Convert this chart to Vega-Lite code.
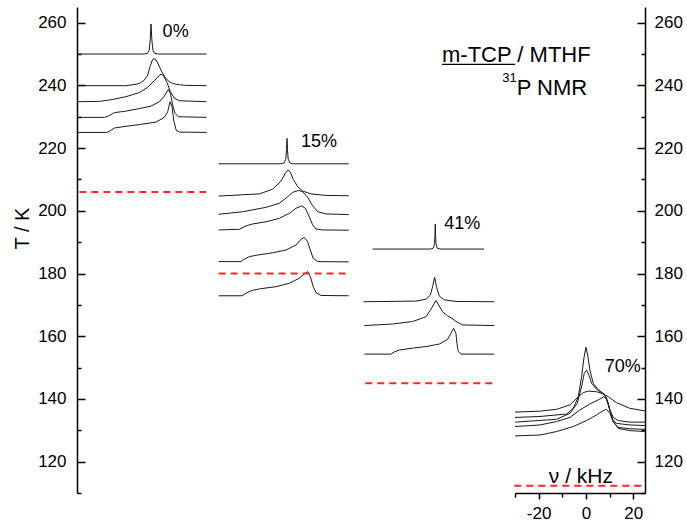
{
  "$schema": "https://vega.github.io/schema/vega-lite/v6.json",
  "padding": {"left": 12, "top": 7, "right": 0, "bottom": 0},
  "spacing": 0,
  "bounds": "flush",
  "config": {"view": {"stroke": null}, "font": "Liberation Sans"},
  "datasets": {
    "spectra": [
      {"p":1,"s":"1a","f":-31.3,"t":250},{"p":1,"s":"1a","f":-3,"t":250},{"p":1,"s":"1a","f":-1.5,"t":250.2},{"p":1,"s":"1a","f":-0.8,"t":251.2},{"p":1,"s":"1a","f":-0.35,"t":254.5},{"p":1,"s":"1a","f":0,"t":259.6},{"p":1,"s":"1a","f":0.35,"t":254.5},{"p":1,"s":"1a","f":0.8,"t":251.2},{"p":1,"s":"1a","f":1.5,"t":250.2},{"p":1,"s":"1a","f":3,"t":250},{"p":1,"s":"1a","f":23.5,"t":250},
      {"p":1,"s":"1b","f":-31.3,"t":239.9},{"p":1,"s":"1b","f":-10.6,"t":239.9},{"p":1,"s":"1b","f":-7.75,"t":240.2},{"p":1,"s":"1b","f":-4.93,"t":240.6},{"p":1,"s":"1b","f":-2.82,"t":241.7},{"p":1,"s":"1b","f":-1.41,"t":243.3},{"p":1,"s":"1b","f":-0.42,"t":246.0},{"p":1,"s":"1b","f":0.42,"t":247.8},{"p":1,"s":"1b","f":1.13,"t":248.6},{"p":1,"s":"1b","f":2.11,"t":248.1},{"p":1,"s":"1b","f":3.24,"t":246.5},{"p":1,"s":"1b","f":4.51,"t":244.4},{"p":1,"s":"1b","f":5.92,"t":242.6},{"p":1,"s":"1b","f":7.33,"t":241.4},{"p":1,"s":"1b","f":9.16,"t":240.6},{"p":1,"s":"1b","f":11.98,"t":240.2},{"p":1,"s":"1b","f":14.8,"t":240.0},{"p":1,"s":"1b","f":23.5,"t":239.9},
      {"p":1,"s":"1c","f":-31.3,"t":234.8},{"p":1,"s":"1c","f":-21.8,"t":234.9},{"p":1,"s":"1c","f":-16.2,"t":235.5},{"p":1,"s":"1c","f":-10.6,"t":236.4},{"p":1,"s":"1c","f":-4.93,"t":237.7},{"p":1,"s":"1c","f":-1.41,"t":239.4},{"p":1,"s":"1c","f":1.41,"t":241.5},{"p":1,"s":"1c","f":3.24,"t":243.0},{"p":1,"s":"1c","f":4.23,"t":243.6},{"p":1,"s":"1c","f":5.36,"t":243.0},{"p":1,"s":"1c","f":6.77,"t":240.9},{"p":1,"s":"1c","f":8.17,"t":238.0},{"p":1,"s":"1c","f":9.87,"t":235.9},{"p":1,"s":"1c","f":11.98,"t":235.1},{"p":1,"s":"1c","f":23.5,"t":234.8},
      {"p":1,"s":"1d","f":-31.3,"t":229.8},{"p":1,"s":"1d","f":-19.7,"t":229.8},{"p":1,"s":"1d","f":-17.9,"t":230.3},{"p":1,"s":"1d","f":-15.5,"t":231.3},{"p":1,"s":"1d","f":-10.6,"t":231.8},{"p":1,"s":"1d","f":-4.93,"t":232.6},{"p":1,"s":"1d","f":0,"t":233.4},{"p":1,"s":"1d","f":3.52,"t":234.8},{"p":1,"s":"1d","f":5.64,"t":236.6},{"p":1,"s":"1d","f":7.33,"t":238.7},{"p":1,"s":"1d","f":8.17,"t":237.5},{"p":1,"s":"1d","f":9.16,"t":233.7},{"p":1,"s":"1d","f":10.15,"t":231.1},{"p":1,"s":"1d","f":11.56,"t":230.0},{"p":1,"s":"1d","f":23.5,"t":229.8},
      {"p":1,"s":"1e","f":-31.3,"t":225.0},{"p":1,"s":"1e","f":-18.7,"t":225.0},{"p":1,"s":"1e","f":-17.3,"t":225.5},{"p":1,"s":"1e","f":-15.5,"t":226.4},{"p":1,"s":"1e","f":-12.0,"t":226.8},{"p":1,"s":"1e","f":-4.93,"t":227.5},{"p":1,"s":"1e","f":2.11,"t":228.3},{"p":1,"s":"1e","f":5.64,"t":229.8},{"p":1,"s":"1e","f":7.05,"t":231.6},{"p":1,"s":"1e","f":8.03,"t":234.8},{"p":1,"s":"1e","f":8.88,"t":233.2},{"p":1,"s":"1e","f":9.58,"t":228.9},{"p":1,"s":"1e","f":10.57,"t":225.8},{"p":1,"s":"1e","f":11.98,"t":225.1},{"p":1,"s":"1e","f":23.5,"t":225.0},
      {"p":2,"s":"2a","f":-28.9,"t":215},{"p":2,"s":"2a","f":-2.5,"t":215},{"p":2,"s":"2a","f":-1.2,"t":215.3},{"p":2,"s":"2a","f":-0.5,"t":216.5},{"p":2,"s":"2a","f":-0.2,"t":219.5},{"p":2,"s":"2a","f":0,"t":223.1},{"p":2,"s":"2a","f":0.2,"t":219.5},{"p":2,"s":"2a","f":0.5,"t":216.5},{"p":2,"s":"2a","f":1.2,"t":215.3},{"p":2,"s":"2a","f":2.5,"t":215},{"p":2,"s":"2a","f":26.1,"t":215},
      {"p":2,"s":"2b","f":-28.9,"t":204.7},{"p":2,"s":"2b","f":-11.7,"t":205.4},{"p":2,"s":"2b","f":-6.06,"t":206.9},{"p":2,"s":"2b","f":-2.54,"t":209.5},{"p":2,"s":"2b","f":-0.7,"t":212.0},{"p":2,"s":"2b","f":0.42,"t":213.0},{"p":2,"s":"2b","f":1.27,"t":212.5},{"p":2,"s":"2b","f":2.68,"t":210.0},{"p":2,"s":"2b","f":4.51,"t":207.7},{"p":2,"s":"2b","f":6.62,"t":206.3},{"p":2,"s":"2b","f":10.1,"t":205.4},{"p":2,"s":"2b","f":16.5,"t":204.9},{"p":2,"s":"2b","f":26.1,"t":204.8},
      {"p":2,"s":"2c","f":-28.9,"t":198.9},{"p":2,"s":"2c","f":-18.7,"t":199.7},{"p":2,"s":"2c","f":-8.88,"t":201.1},{"p":2,"s":"2c","f":-3.24,"t":202.4},{"p":2,"s":"2c","f":-0.14,"t":204.2},{"p":2,"s":"2c","f":2.4,"t":205.9},{"p":2,"s":"2c","f":4.93,"t":206.5},{"p":2,"s":"2c","f":6.62,"t":206.1},{"p":2,"s":"2c","f":8.74,"t":204.3},{"p":2,"s":"2c","f":10.85,"t":201.6},{"p":2,"s":"2c","f":12.97,"t":199.7},{"p":2,"s":"2c","f":16.5,"t":199.0},{"p":2,"s":"2c","f":26.1,"t":198.8},
      {"p":2,"s":"2d","f":-28.9,"t":193.9},{"p":2,"s":"2d","f":-20.2,"t":194.1},{"p":2,"s":"2d","f":-17.3,"t":195.2},{"p":2,"s":"2d","f":-14.5,"t":195.8},{"p":2,"s":"2d","f":-8.88,"t":196.5},{"p":2,"s":"2d","f":-3.24,"t":197.6},{"p":2,"s":"2d","f":0.99,"t":199.2},{"p":2,"s":"2d","f":3.81,"t":200.8},{"p":2,"s":"2d","f":6.2,"t":201.6},{"p":2,"s":"2d","f":7.75,"t":200.8},{"p":2,"s":"2d","f":9.44,"t":198.1},{"p":2,"s":"2d","f":10.85,"t":195.5},{"p":2,"s":"2d","f":12.26,"t":194.2},{"p":2,"s":"2d","f":15.1,"t":193.9},{"p":2,"s":"2d","f":26.1,"t":193.8},
      {"p":2,"s":"2e","f":-28.9,"t":183.8},{"p":2,"s":"2e","f":-19.5,"t":183.8},{"p":2,"s":"2e","f":-18.7,"t":184.3},{"p":2,"s":"2e","f":-15.9,"t":185.4},{"p":2,"s":"2e","f":-12.4,"t":185.9},{"p":2,"s":"2e","f":-6.06,"t":186.6},{"p":2,"s":"2e","f":-0.42,"t":187.5},{"p":2,"s":"2e","f":3.81,"t":189.1},{"p":2,"s":"2e","f":5.92,"t":190.9},{"p":2,"s":"2e","f":7.33,"t":191.5},{"p":2,"s":"2e","f":8.74,"t":190.1},{"p":2,"s":"2e","f":9.87,"t":187.5},{"p":2,"s":"2e","f":11.1,"t":184.8},{"p":2,"s":"2e","f":13.0,"t":183.8},{"p":2,"s":"2e","f":26.1,"t":183.7},
      {"p":2,"s":"2f","f":-28.9,"t":172.9},{"p":2,"s":"2f","f":-19.0,"t":172.9},{"p":2,"s":"2f","f":-17.3,"t":173.7},{"p":2,"s":"2f","f":-15.2,"t":174.5},{"p":2,"s":"2f","f":-11.7,"t":175.1},{"p":2,"s":"2f","f":-4.65,"t":175.8},{"p":2,"s":"2f","f":0.99,"t":176.9},{"p":2,"s":"2f","f":5.21,"t":178.5},{"p":2,"s":"2f","f":7.33,"t":179.9},{"p":2,"s":"2f","f":8.74,"t":180.6},{"p":2,"s":"2f","f":9.87,"t":179.0},{"p":2,"s":"2f","f":11.1,"t":175.8},{"p":2,"s":"2f","f":12.3,"t":173.9},{"p":2,"s":"2f","f":14.4,"t":173.0},{"p":2,"s":"2f","f":26.1,"t":172.9},
      {"p":3,"s":"3a","f":-26.5,"t":187.8},{"p":3,"s":"3a","f":-2,"t":187.8},{"p":3,"s":"3a","f":-0.8,"t":188.1},{"p":3,"s":"3a","f":-0.3,"t":189.5},{"p":3,"s":"3a","f":-0.1,"t":192.5},{"p":3,"s":"3a","f":0,"t":195.8},{"p":3,"s":"3a","f":0.1,"t":192.5},{"p":3,"s":"3a","f":0.3,"t":189.5},{"p":3,"s":"3a","f":0.8,"t":188.1},{"p":3,"s":"3a","f":2,"t":187.8},{"p":3,"s":"3a","f":20.7,"t":187.8},
      {"p":3,"s":"3b","f":-30.4,"t":171.0},{"p":3,"s":"3b","f":-8.17,"t":171.2},{"p":3,"s":"3b","f":-3.95,"t":171.8},{"p":3,"s":"3b","f":-2.11,"t":173.1},{"p":3,"s":"3b","f":-1.13,"t":175.8},{"p":3,"s":"3b","f":-0.28,"t":178.8},{"p":3,"s":"3b","f":0.56,"t":175.6},{"p":3,"s":"3b","f":1.69,"t":172.8},{"p":3,"s":"3b","f":3.81,"t":171.6},{"p":3,"s":"3b","f":8.74,"t":171.1},{"p":3,"s":"3b","f":24.9,"t":171.0},
      {"p":3,"s":"3c","f":-30.0,"t":163.4},{"p":3,"s":"3c","f":-18.0,"t":163.9},{"p":3,"s":"3c","f":-9.58,"t":164.7},{"p":3,"s":"3c","f":-3.95,"t":166.2},{"p":3,"s":"3c","f":-1.83,"t":168.6},{"p":3,"s":"3c","f":0.28,"t":171.4},{"p":3,"s":"3c","f":1.69,"t":169.6},{"p":3,"s":"3c","f":3.1,"t":167.8},{"p":3,"s":"3c","f":5.21,"t":166.5},{"p":3,"s":"3c","f":7.05,"t":165.7},{"p":3,"s":"3c","f":8.74,"t":164.7},{"p":3,"s":"3c","f":11.56,"t":163.6},{"p":3,"s":"3c","f":24.9,"t":163.4},
      {"p":3,"s":"3d","f":-30.0,"t":154.3},{"p":3,"s":"3d","f":-18.7,"t":154.3},{"p":3,"s":"3d","f":-17.3,"t":155.0},{"p":3,"s":"3d","f":-15.2,"t":155.6},{"p":3,"s":"3d","f":-9.58,"t":156.2},{"p":3,"s":"3d","f":-3.95,"t":156.7},{"p":3,"s":"3d","f":1.69,"t":157.5},{"p":3,"s":"3d","f":5.21,"t":159.0},{"p":3,"s":"3d","f":7.05,"t":161.5},{"p":3,"s":"3d","f":7.75,"t":162.5},{"p":3,"s":"3d","f":8.74,"t":160.9},{"p":3,"s":"3d","f":9.16,"t":157.7},{"p":3,"s":"3d","f":9.73,"t":155.1},{"p":3,"s":"3d","f":10.85,"t":154.3},{"p":3,"s":"3d","f":24.9,"t":154.3},
      {"p":4,"s":"4a","f":-30.0,"t":135.8},{"p":4,"s":"4a","f":-19.45,"t":136.1},{"p":4,"s":"4a","f":-12.4,"t":136.7},{"p":4,"s":"4a","f":-6.77,"t":138.1},{"p":4,"s":"4a","f":-3.24,"t":140.7},{"p":4,"s":"4a","f":-1.13,"t":142.0},{"p":4,"s":"4a","f":0.99,"t":142.5},{"p":4,"s":"4a","f":4.51,"t":142.3},{"p":4,"s":"4a","f":7.33,"t":141.6},{"p":4,"s":"4a","f":9.44,"t":140.7},{"p":4,"s":"4a","f":12.97,"t":138.8},{"p":4,"s":"4a","f":18.6,"t":137.0},{"p":4,"s":"4a","f":24.9,"t":136.2},
      {"p":4,"s":"4b","f":-30.0,"t":134.1},{"p":4,"s":"4b","f":-19.45,"t":134.4},{"p":4,"s":"4b","f":-8.17,"t":135.2},{"p":4,"s":"4b","f":-5.36,"t":137.0},{"p":4,"s":"4b","f":-3.24,"t":140.7},{"p":4,"s":"4b","f":-1.83,"t":147.1},{"p":4,"s":"4b","f":-0.85,"t":153.0},{"p":4,"s":"4b","f":0,"t":156.5},{"p":4,"s":"4b","f":0.85,"t":153.5},{"p":4,"s":"4b","f":1.69,"t":149.2},{"p":4,"s":"4b","f":3.1,"t":145.0},{"p":4,"s":"4b","f":5.21,"t":142.9},{"p":4,"s":"4b","f":7.33,"t":141.8},{"p":4,"s":"4b","f":8.74,"t":140.2},{"p":4,"s":"4b","f":10.15,"t":136.5},{"p":4,"s":"4b","f":11.56,"t":134.1},{"p":4,"s":"4b","f":13.67,"t":133.1},{"p":4,"s":"4b","f":18.6,"t":132.6},{"p":4,"s":"4b","f":24.9,"t":132.6},
      {"p":4,"s":"4c","f":-30.0,"t":132.6},{"p":4,"s":"4c","f":-12.4,"t":133.5},{"p":4,"s":"4c","f":-6.77,"t":135.4},{"p":4,"s":"4c","f":-3.66,"t":138.6},{"p":4,"s":"4c","f":-1.83,"t":143.9},{"p":4,"s":"4c","f":-0.7,"t":148.2},{"p":4,"s":"4c","f":0.28,"t":149.2},{"p":4,"s":"4c","f":1.27,"t":147.6},{"p":4,"s":"4c","f":2.4,"t":145.0},{"p":4,"s":"4c","f":4.51,"t":143.1},{"p":4,"s":"4c","f":6.62,"t":142.0},{"p":4,"s":"4c","f":8.46,"t":140.7},{"p":4,"s":"4c","f":9.87,"t":137.0},{"p":4,"s":"4c","f":11.28,"t":133.5},{"p":4,"s":"4c","f":12.97,"t":132.2},{"p":4,"s":"4c","f":18.6,"t":131.7},{"p":4,"s":"4c","f":24.9,"t":131.5},
      {"p":4,"s":"4d","f":-30.0,"t":131.2},{"p":4,"s":"4d","f":-19.45,"t":131.7},{"p":4,"s":"4d","f":-12.4,"t":132.8},{"p":4,"s":"4d","f":-6.77,"t":134.1},{"p":4,"s":"4d","f":-2.54,"t":136.5},{"p":4,"s":"4d","f":1.69,"t":138.4},{"p":4,"s":"4d","f":5.21,"t":139.7},{"p":4,"s":"4d","f":7.61,"t":140.7},{"p":4,"s":"4d","f":9.02,"t":139.7},{"p":4,"s":"4d","f":10.15,"t":136.5},{"p":4,"s":"4d","f":11.56,"t":132.8},{"p":4,"s":"4d","f":13.67,"t":130.9},{"p":4,"s":"4d","f":18.6,"t":130.5},{"p":4,"s":"4d","f":24.9,"t":130.3},
      {"p":4,"s":"4e","f":-30.0,"t":128.2},{"p":4,"s":"4e","f":-19.45,"t":128.5},{"p":4,"s":"4e","f":-12.4,"t":129.6},{"p":4,"s":"4e","f":-5.36,"t":131.2},{"p":4,"s":"4e","f":0.28,"t":133.1},{"p":4,"s":"4e","f":4.51,"t":134.9},{"p":4,"s":"4e","f":7.33,"t":136.3},{"p":4,"s":"4e","f":8.74,"t":136.7},{"p":4,"s":"4e","f":10.15,"t":135.4},{"p":4,"s":"4e","f":11.56,"t":132.8},{"p":4,"s":"4e","f":13.67,"t":130.6},{"p":4,"s":"4e","f":18.6,"t":129.9},{"p":4,"s":"4e","f":24.9,"t":129.6}
    ],
    "dashes": [
      {"p":1,"f":-30.3,"f2":25.1,"t":206},
      {"p":2,"f":-28.9,"f2":26.6,"t":180},
      {"p":3,"f":-29.6,"f2":25.7,"t":145},
      {"p":4,"f":-30.3,"f2":24.9,"t":112.3}
    ],
    "pct": [
      {"p":1,"f":4.9,"t":257.1,"txt":"0%"},
      {"p":2,"f":5.9,"t":222.0,"txt":"15%"},
      {"p":3,"f":3.8,"t":195.9,"txt":"41%"},
      {"p":4,"f":8.0,"t":150.3,"txt":"70%"}
    ]
  },
  "hconcat": [
    {
      "width": 136, "height": 486,
      "encoding": {
        "x": {"field": "f", "type": "quantitative", "scale": {"domain": [-31.3, 26.2], "nice": false, "zero": false}, "axis": null},
        "y": {"field": "t", "type": "quantitative", "scale": {"domain": [110, 265], "nice": false, "zero": false},
          "axis": {"orient": "left", "values": [110,120,130,140,150,160,170,180,190,200,210,220,230,240,250,260],
            "tickSize": {"condition": {"test": "datum.value % 20 === 0", "value": -8}, "value": -4},
            "labelExpr": "datum.value % 20 === 0 ? datum.label : ''",
            "labelPadding": 19, "labelFontSize": 17, "labelFont": "Liberation Sans", "labelColor": "black",
            "domainColor": "black", "domainWidth": 1.5, "tickColor": "black", "tickWidth": 1.5, "grid": false,
            "title": "T / K", "titleFontSize": 20, "titleFont": "Liberation Sans", "titleFontWeight": "normal", "titleColor": "black",
            "titleBaseline": "middle", "titleX": -55, "titleY": 221}}
      },
      "layer": [
        {"data": {"name": "spectra"}, "transform": [{"filter": "datum.p === 1"}], "mark": {"type": "line", "color": "#1a1a1a", "strokeWidth": 1}, "encoding": {"detail": {"field": "s", "type": "nominal"}}},
        {"data": {"name": "dashes"}, "transform": [{"filter": "datum.p === 1"}], "mark": {"type": "rule", "color": "#ff2525", "strokeWidth": 2, "strokeDash": [7, 5]}, "encoding": {"x2": {"field": "f2"}}},
        {"data": {"name": "pct"}, "transform": [{"filter": "datum.p === 1"}], "mark": {"type": "text", "align": "left", "baseline": "middle", "fontSize": 18, "font": "Liberation Sans", "color": "black"}, "encoding": {"text": {"field": "txt"}}}
      ]
    },
    {
      "width": 148, "height": 486,
      "encoding": {
        "x": {"field": "f", "type": "quantitative", "scale": {"domain": [-31.3, 31.3], "nice": false, "zero": false}, "axis": null},
        "y": {"field": "t", "type": "quantitative", "scale": {"domain": [110, 265], "nice": false, "zero": false}, "axis": null}
      },
      "layer": [
        {"data": {"name": "spectra"}, "transform": [{"filter": "datum.p === 2"}], "mark": {"type": "line", "color": "#1a1a1a", "strokeWidth": 1}, "encoding": {"detail": {"field": "s", "type": "nominal"}}},
        {"data": {"name": "dashes"}, "transform": [{"filter": "datum.p === 2"}], "mark": {"type": "rule", "color": "#ff2525", "strokeWidth": 2, "strokeDash": [7, 5]}, "encoding": {"x2": {"field": "f2"}}},
        {"data": {"name": "pct"}, "transform": [{"filter": "datum.p === 2"}], "mark": {"type": "text", "align": "left", "baseline": "middle", "fontSize": 18, "font": "Liberation Sans", "color": "black"}, "encoding": {"text": {"field": "txt"}}}
      ]
    },
    {
      "width": 154, "height": 486,
      "encoding": {
        "x": {"field": "f", "type": "quantitative", "scale": {"domain": [-31.4, 33.7], "nice": false, "zero": false}, "axis": null},
        "y": {"field": "t", "type": "quantitative", "scale": {"domain": [110, 265], "nice": false, "zero": false}, "axis": null}
      },
      "layer": [
        {"data": {"name": "spectra"}, "transform": [{"filter": "datum.p === 3"}], "mark": {"type": "line", "color": "#1a1a1a", "strokeWidth": 1}, "encoding": {"detail": {"field": "s", "type": "nominal"}}},
        {"data": {"name": "dashes"}, "transform": [{"filter": "datum.p === 3"}], "mark": {"type": "rule", "color": "#ff2525", "strokeWidth": 2, "strokeDash": [7, 5]}, "encoding": {"x2": {"field": "f2"}}},
        {"data": {"name": "pct"}, "transform": [{"filter": "datum.p === 3"}], "mark": {"type": "text", "align": "left", "baseline": "middle", "fontSize": 18, "font": "Liberation Sans", "color": "black"}, "encoding": {"text": {"field": "txt"}}},
        {"data": {"values": [{"f": 2.83, "t": 247.6, "txt": "m-TCP / MTHF"}]}, "mark": {"type": "text", "align": "left", "baseline": "alphabetic", "fontSize": 22, "font": "Liberation Sans", "color": "black"}, "encoding": {"text": {"field": "txt"}}},
        {"data": {"values": [{"f": 2.83, "f2": 33.7, "t": 246.7}]}, "mark": {"type": "rule", "color": "black", "strokeWidth": 1.2}, "encoding": {"x2": {"field": "f2"}}}
      ]
    },
    {
      "width": 130, "height": 486,
      "encoding": {
        "x": {"field": "f", "type": "quantitative", "scale": {"domain": [-30, 25], "nice": false, "zero": false},
          "axis": {"orient": "bottom", "values": [-30, -20, -10, 0, 10, 20],
            "tickSize": {"condition": {"test": "datum.value % 20 === 0", "value": 6}, "value": 4},
            "labelExpr": "datum.value % 20 === 0 ? '' + datum.value : ''",
            "labelPadding": 6, "labelFontSize": 17, "labelFont": "Liberation Sans", "labelColor": "black",
            "domainColor": "black", "domainWidth": 1.5, "tickColor": "black", "tickWidth": 1.5, "grid": false, "title": null}},
        "y": {"field": "t", "type": "quantitative", "scale": {"domain": [110, 265], "nice": false, "zero": false},
          "axis": {"orient": "right", "values": [110,120,130,140,150,160,170,180,190,200,210,220,230,240,250,260],
            "tickSize": {"condition": {"test": "datum.value % 20 === 0", "value": -8}, "value": -4},
            "labelExpr": "datum.value % 20 === 0 ? datum.label : ''",
            "labelPadding": 17, "labelFontSize": 17, "labelFont": "Liberation Sans", "labelColor": "black",
            "domainColor": "black", "domainWidth": 1.5, "tickColor": "black", "tickWidth": 1.5, "grid": false, "title": null}}
      },
      "layer": [
        {"data": {"name": "spectra"}, "transform": [{"filter": "datum.p === 4"}], "mark": {"type": "line", "color": "#1a1a1a", "strokeWidth": 1}, "encoding": {"detail": {"field": "s", "type": "nominal"}}},
        {"data": {"name": "dashes"}, "transform": [{"filter": "datum.p === 4"}], "mark": {"type": "rule", "color": "#ff2525", "strokeWidth": 2, "strokeDash": [7, 5]}, "encoding": {"x2": {"field": "f2"}}},
        {"data": {"name": "pct"}, "transform": [{"filter": "datum.p === 4"}], "mark": {"type": "text", "align": "left", "baseline": "middle", "fontSize": 18, "font": "Liberation Sans", "color": "black"}, "encoding": {"text": {"field": "txt"}}},
        {"data": {"values": [{"f": -29.3, "t": 236.9, "txt": "P NMR"}]}, "mark": {"type": "text", "align": "left", "baseline": "alphabetic", "fontSize": 22, "font": "Liberation Sans", "color": "black"}, "encoding": {"text": {"field": "txt"}}},
        {"data": {"values": [{"f": -29.3, "t": 241.2, "txt": "31"}]}, "mark": {"type": "text", "align": "right", "baseline": "alphabetic", "fontSize": 13, "font": "Liberation Sans", "color": "black"}, "encoding": {"text": {"field": "txt"}}},
        {"data": {"values": [{"f": -2.1, "t": 113.1, "txt": "ν / kHz"}]}, "mark": {"type": "text", "align": "center", "baseline": "alphabetic", "fontSize": 21, "font": "Liberation Sans", "color": "black"}, "encoding": {"text": {"field": "txt"}}}
      ]
    }
  ]
}
